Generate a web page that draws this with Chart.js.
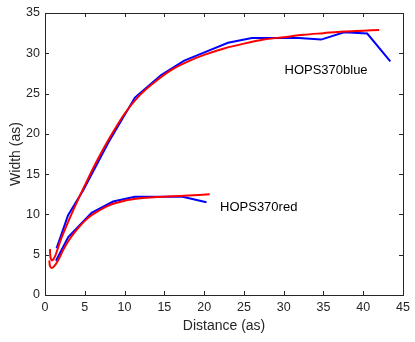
<!DOCTYPE html>
<html>
<head>
<meta charset="utf-8">
<script src="https://cdn.jsdelivr.net/npm/chart.js@4"></script>
<style>
  html, body { margin: 0; padding: 0; background: #fff; }
  #wrap { width: 415px; height: 342px; }
</style>
</head>
<body>
<div id="wrap"><canvas id="chart"></canvas></div>
<script>
// Dados
const redDistBlue = [0.62, 0.7, 0.9, 1.3, 2.0, 3.0, 4.0, 5.0, 6.5, 8.0, 10, 12, 14, 16, 18, 20, 22.5, 25, 27.5, 30, 32.5, 35, 37.5, 40, 42.0];
const redWidthBlue = [5.7, 4.6, 4.3, 4.9, 6.9, 9.3, 11.5, 13.6, 16.6, 19.3, 22.5, 24.9, 26.6, 28.0, 29.0, 29.8, 30.6, 31.2, 31.7, 32.0, 32.3, 32.5, 32.7, 32.8, 32.9];
const blueDistBlue = [1.45, 2.9, 4.8, 8.0, 11.3, 14.6, 17.5, 20.5, 23.0, 26.0, 29.4, 31.9, 34.7, 37.6, 40.5, 43.4];
const blueWidthBlue = [5.8, 9.9, 13.0, 19.0, 24.5, 27.3, 29.1, 30.3, 31.3, 31.9, 31.9, 31.9, 31.7, 32.6, 32.45, 29.0];

const redDistRed = [0.55, 0.62, 0.85, 1.2, 1.7, 2.3, 3.0, 4.0, 5.0, 6.0, 8.0, 10, 12, 14, 16, 18, 20.7];
const redWidthRed = [4.3, 3.6, 3.35, 3.6, 4.4, 5.6, 6.8, 8.1, 9.2, 10.0, 11.1, 11.7, 12.0, 12.15, 12.25, 12.35, 12.5];
const blueDistRed = [1.38, 2.92, 5.85, 8.56, 11.3, 17.3, 20.3];
const blueWidthRed = [4.25, 7.2, 10.2, 11.6, 12.2, 12.2, 11.5];

const curveLabels = ["HOPS370blue", "HOPS370red"];
const labelDist = [30.1, 22.0];
const labelWidth = [27.9, 10.9];

const xTicks = [0, 5, 10, 15, 20, 25, 30, 35, 40, 45];
const yTicks = [0, 5, 10, 15, 20, 25, 30, 35];

const AXIS = "#262626";
const FONT = "'Liberation Sans', Arial, Helvetica, sans-serif";

function pts(xs, ys) {
  return xs.map((x, i) => ({ x, y: ys[i] }));
}

function line(data, color, tension) {
  return {
    data,
    borderColor: color,
    borderWidth: 2,
    pointRadius: 0,
    showLine: true,
    fill: false,
    tension
  };
}

// caixa + marcas para dentro, estilo matlab
const matlabAxes = {
  id: "matlabAxes",
  afterDraw(chart) {
    const { ctx, chartArea: a, scales } = chart;
    const len = 4;
    ctx.save();
    ctx.strokeStyle = AXIS;
    ctx.lineWidth = 1;
    ctx.beginPath();
    xTicks.forEach(v => {
      const px = Math.round(scales.x.getPixelForValue(v)) + 0.5;
      ctx.moveTo(px, a.bottom); ctx.lineTo(px, a.bottom - len);
      ctx.moveTo(px, a.top); ctx.lineTo(px, a.top + len);
    });
    yTicks.forEach(v => {
      const py = Math.round(scales.y.getPixelForValue(v)) + 0.5;
      ctx.moveTo(a.left, py); ctx.lineTo(a.left + len, py);
      ctx.moveTo(a.right, py); ctx.lineTo(a.right - len, py);
    });
    ctx.stroke();
    ctx.strokeRect(Math.round(a.left) + 0.5, Math.round(a.top) + 0.5,
      Math.round(a.right - a.left), Math.round(a.bottom - a.top));

    ctx.fillStyle = "#000";
    ctx.font = "13px " + FONT;
    ctx.textBaseline = "middle";
    ctx.textAlign = "left";
    curveLabels.forEach((t, i) => {
      ctx.fillText(t, scales.x.getPixelForValue(labelDist[i]), scales.y.getPixelForValue(labelWidth[i]));
    });
    ctx.restore();
  }
};

new Chart(document.getElementById("chart"), {
  type: "scatter",
  data: {
    datasets: [
      line(pts(redDistBlue, redWidthBlue), "#ff0000", 0.3),
      line(pts(redDistRed, redWidthRed), "#ff0000", 0.3),
      line(pts(blueDistBlue, blueWidthBlue), "#0000ff", 0),
      line(pts(blueDistRed, blueWidthRed), "#0000ff", 0)
    ]
  },
  options: {
    responsive: true,
    maintainAspectRatio: false,
    animation: false,
    events: [],
    layout: { padding: { top: 13, right: 11, left: 0, bottom: 0 } },
    plugins: { legend: { display: false }, tooltip: { enabled: false } },
    scales: {
      x: {
        type: "linear",
        min: 0, max: 45,
        afterFit: s => { s.height = 47; },
        afterBuildTicks: s => { s.ticks = xTicks.map(v => ({ value: v })); },
        grid: { display: false, drawTicks: false },
        border: { display: false },
        ticks: { color: AXIS, padding: 5, font: { size: 12.5, family: FONT }, maxRotation: 0 },
        title: { display: true, text: "Distance (as)", color: AXIS, font: { size: 14, family: FONT }, padding: { top: 4, bottom: 7 } }
      },
      y: {
        type: "linear",
        min: 0, max: 35,
        afterFit: s => { s.width = 45; },
        afterBuildTicks: s => { s.ticks = yTicks.map(v => ({ value: v })); },
        grid: { display: false, drawTicks: false },
        border: { display: false },
        ticks: { color: AXIS, padding: 5, font: { size: 12.5, family: FONT } },
        title: { display: true, text: "Width (as)", color: AXIS, font: { size: 14, family: FONT }, padding: { top: 8, bottom: 0 } }
      }
    }
  },
  plugins: [matlabAxes]
});
</script>
</body>
</html>
